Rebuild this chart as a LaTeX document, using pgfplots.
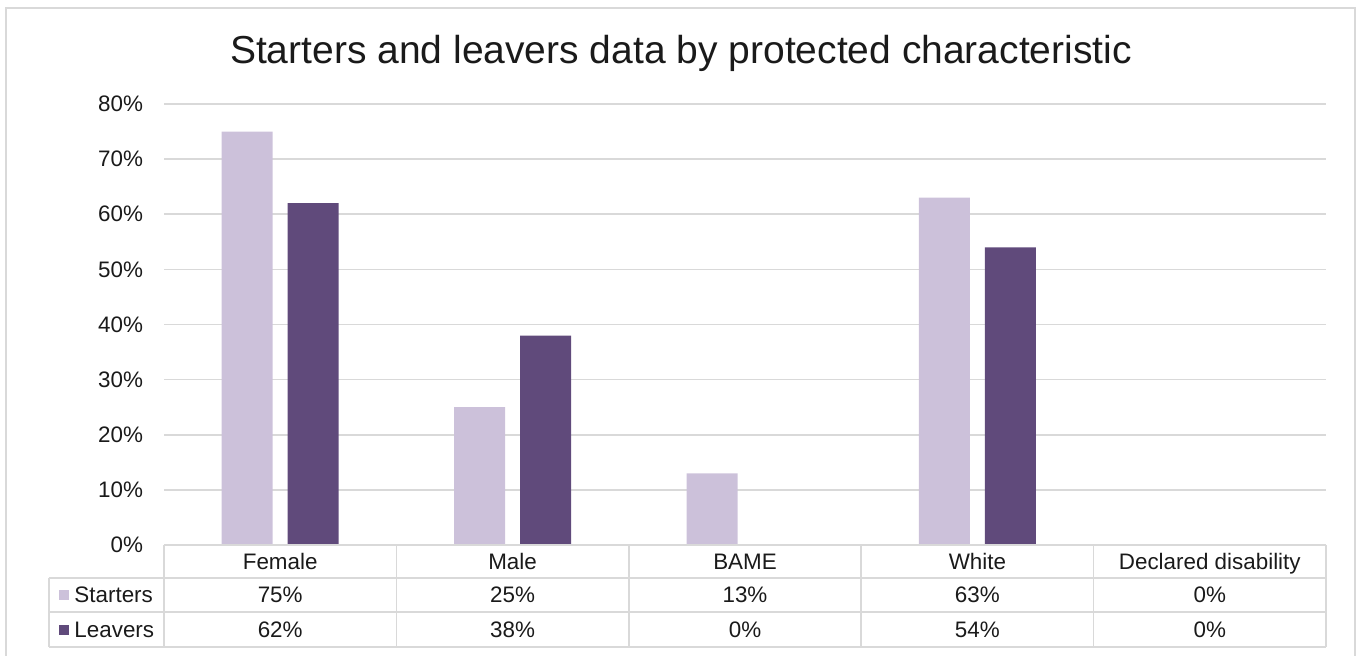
\documentclass[border=0pt]{standalone}
\usepackage{pgfplots}
\pgfplotsset{compat=1.18}
\usepackage{pgfplotstable}
\usepackage{fontspec}
\setmainfont{Liberation Sans}

\definecolor{starterscol}{HTML}{CCC1DA}
\definecolor{leaverscol}{HTML}{604A7B}
\definecolor{linegray}{HTML}{D9D9D9}
\definecolor{textcol}{HTML}{1A1A1A}

% share of starters and leavers (percent) by characteristic
\pgfplotstableread{
x starters leavers
0 75 62
1 25 38
2 13 0
3 63 54
4 0 0
}\datatable

\begin{document}
\begin{tikzpicture}[x=1pt,y=1pt]
\useasboundingbox (0,0) rectangle (679.5,327.5);
% chart frame
\draw[linegray, line width=0.8pt] (3,-2) -- (3,323.5) -- (677.5,323.5) -- (677.5,-2);
\node[font=\fontsize{19.5}{23}\selectfont, text=textcol] at (340.5,301)
  {Starters and leavers data by protected characteristic};
\begin{axis}[
  at={(82pt,55pt)}, anchor=south west,
  scale only axis, width=581pt, height=220.5pt,
  xmin=-0.5, xmax=4.5, ymin=0, ymax=80,
  clip=false,
  axis line style={draw=none},
  tick style={draw=none},
  ytick={10,20,...,80},
  extra y ticks={0},
  extra y tick style={grid=none},
  yticklabel={\pgfmathprintnumber{\tick}\%},
  /pgf/number format/assume math mode=true,
  yticklabel style={font=\fontsize{11.2}{13}\selectfont, text=textcol, xshift=-7pt},
  ymajorgrids, major grid style={linegray, line width=0.8pt},
  xtick={0,1,2,3,4},
  xticklabels={Female,Male,BAME,White,Declared disability},
  xticklabel style={font=\fontsize{11.2}{13}\selectfont, text=textcol,
    anchor=center, text height=8pt, text depth=2.3pt, yshift=-9.3pt},
]
\addplot[ybar, bar width=25.5pt, bar shift=-16.5pt, fill=starterscol, draw=none]
  table[x=x, y=starters] {\datatable};
\addplot[ybar, bar width=25.5pt, bar shift=16.5pt, fill=leaverscol, draw=none]
  table[x=x, y=leavers] {\datatable};

% data table rows
\addplot[draw=none, mark=none, point meta=explicit,
  nodes near coords={\pgfmathprintnumber{\pgfplotspointmeta}\%},
  every node near coord/.append style={anchor=center, font=\fontsize{11.2}{13}\selectfont, text=textcol}]
  table[x=x, y expr=-9.1, meta=starters] {\datatable};
\addplot[draw=none, mark=none, point meta=explicit,
  nodes near coords={\pgfmathprintnumber{\pgfplotspointmeta}\%},
  every node near coord/.append style={anchor=center, font=\fontsize{11.2}{13}\selectfont, text=textcol}]
  table[x=x, y expr=-15.4, meta=leavers] {\datatable};

% table grid
\draw[linegray, line width=0.8pt]
  (axis cs:-0.5,0) -- (axis cs:4.5,0)
  (axis cs:-0.995,-6.0) -- (axis cs:4.5,-6.0)
  (axis cs:-0.995,-12.2) -- (axis cs:4.5,-12.2)
  (axis cs:-0.995,-18.5) -- (axis cs:4.5,-18.5)
  (axis cs:-0.995,-6.0) -- (axis cs:-0.995,-18.5)
  (axis cs:-0.5,0) -- (axis cs:-0.5,-18.5)
  (axis cs:0.5,0) -- (axis cs:0.5,-18.5)
  (axis cs:1.5,0) -- (axis cs:1.5,-18.5)
  (axis cs:2.5,0) -- (axis cs:2.5,-18.5)
  (axis cs:3.5,0) -- (axis cs:3.5,-18.5)
  (axis cs:4.5,0) -- (axis cs:4.5,-18.5);

% legend keys in the first column
\fill[starterscol] (axis cs:-0.932,-9.1) ++(-2.5pt,-2.5pt) rectangle ++(5pt,5pt);
\fill[leaverscol] (axis cs:-0.932,-15.4) ++(-2.5pt,-2.5pt) rectangle ++(5pt,5pt);
\node[anchor=west, inner sep=0pt, font=\fontsize{11.2}{13}\selectfont, text=textcol]
  at (axis cs:-0.887,-9.1) {Starters};
\node[anchor=west, inner sep=0pt, font=\fontsize{11.2}{13}\selectfont, text=textcol]
  at (axis cs:-0.887,-15.4) {Leavers};
\end{axis}
\end{tikzpicture}
\end{document}
